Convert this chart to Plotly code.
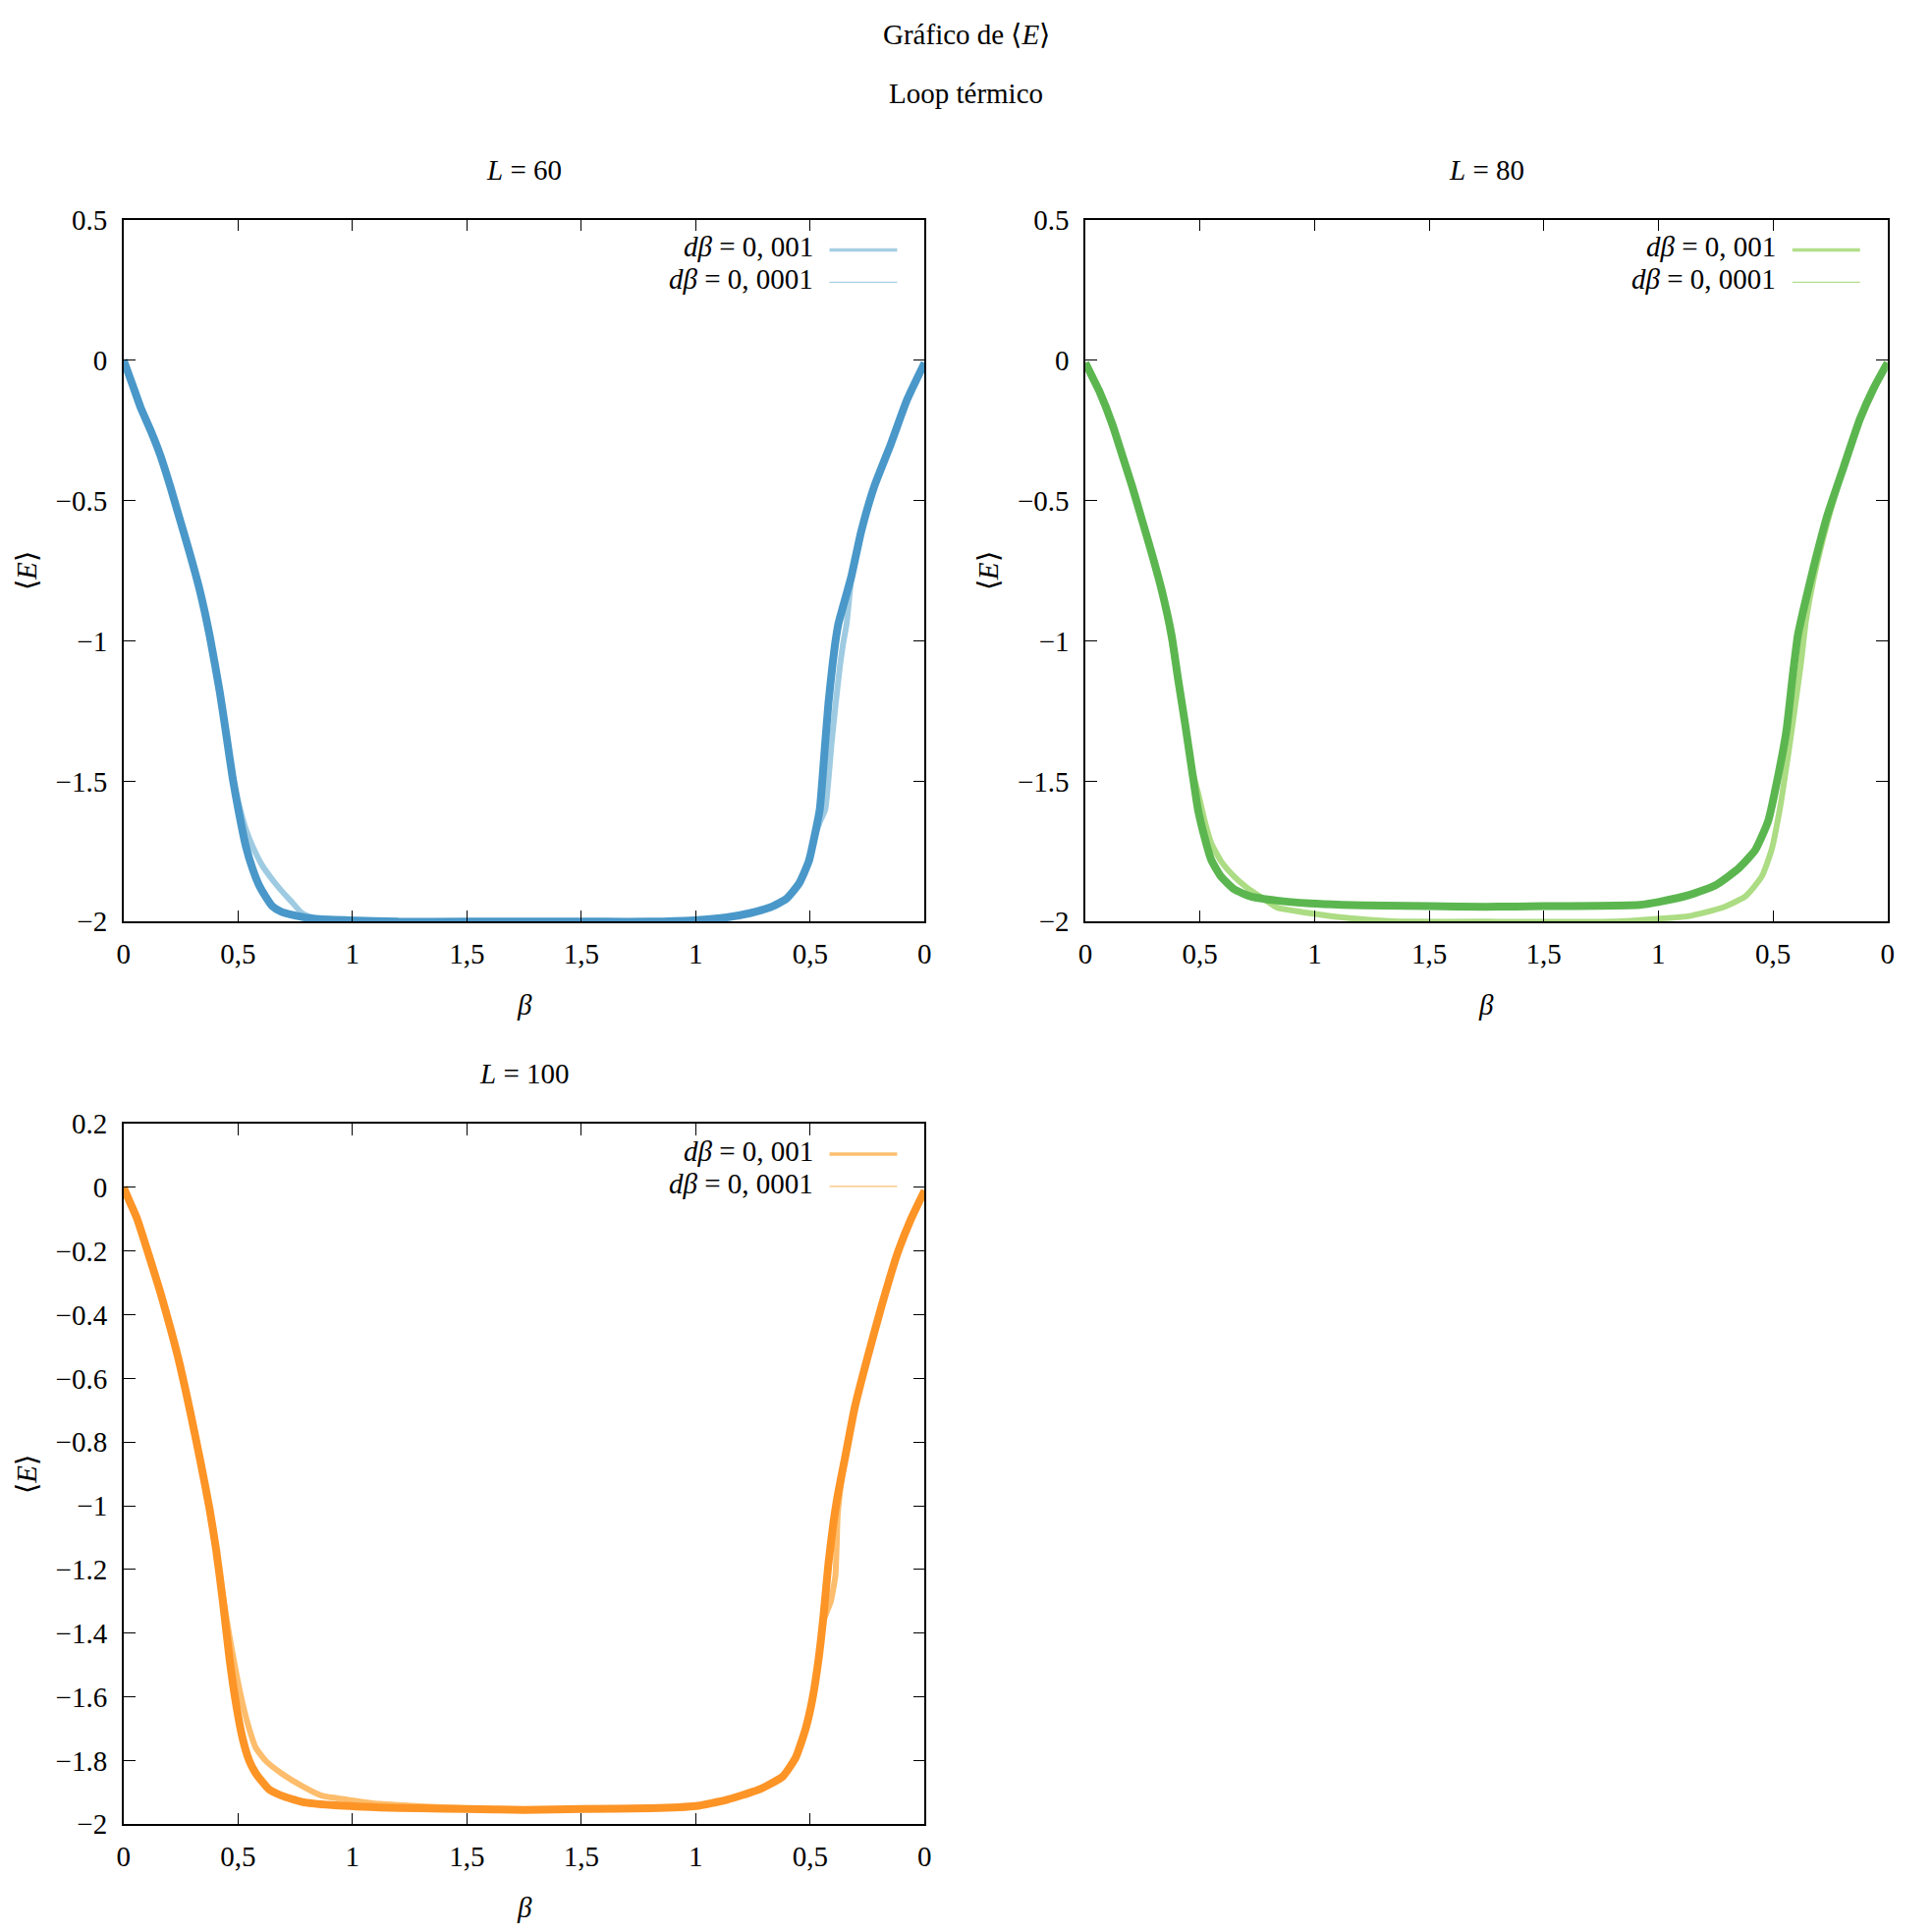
import plotly.graph_objects as go

W, H = 1967, 1967
FONT = "Liberation Serif"
FS = 29
BETA_MAX = 1.75   # el loop sube hasta beta = 1.75 y vuelve a 0

# ── L = 60 ─────────────────────────────────────────────
L60_SUBE_B_1E4 = [0, 0.04, 0.075, 0.118, 0.161, 0.204, 0.247, 0.29, 0.333, 0.376, 0.42, 0.448,
                  0.477, 0.506, 0.534, 0.563, 0.592, 0.62, 0.65, 0.69, 0.76, 0.84, 0.98, 1.2, 1.5, 1.75]
L60_SUBE_E_1E4 = [0.0, -0.09, -0.17, -0.25, -0.34, -0.45, -0.57, -0.69, -0.82, -0.98, -1.18, -1.33,
                  -1.49, -1.62, -1.73, -1.81, -1.87, -1.91, -1.945, -1.965, -1.98, -1.99, -1.995, -2.0, -2.0, -2.0]
L60_BAJA_B_1E4 = [1.75, 1.4, 1.2, 1.007, 0.864, 0.764, 0.678, 0.606, 0.549, 0.506, 0.477, 0.458,
                  0.434, 0.42, 0.403, 0.391, 0.377, 0.32, 0.277, 0.22, 0.148, 0.076, 0]
L60_BAJA_E_1E4 = [-2.0, -2.0, -2.0, -1.995, -1.985, -1.97, -1.95, -1.92, -1.865, -1.785, -1.68, -1.60,
                  -1.36, -1.22, -1.09, -1.01, -0.94, -0.77, -0.61, -0.45, -0.30, -0.14, -0.01]

L60_SUBE_B_1E3 = [0, 0.075, 0.161, 0.247, 0.333, 0.42, 0.477, 0.5, 0.534, 0.563, 0.606, 0.65,
                  0.69, 0.735, 0.78, 0.84, 0.9, 1.2, 1.5, 1.75]
L60_SUBE_E_1E3 = [0.0, -0.17, -0.34, -0.57, -0.82, -1.18, -1.49, -1.57, -1.67, -1.73, -1.80, -1.85,
                  -1.89, -1.93, -1.97, -1.99, -2.0, -2.0, -2.0, -2.0]
L60_BAJA_B_1E3 = [1.75, 1.4, 1.2, 1.007, 0.864, 0.764, 0.678, 0.606, 0.549, 0.506, 0.477, 0.455,
                  0.434, 0.406, 0.388, 0.37, 0.356, 0.341, 0.32, 0.277, 0.22, 0.148, 0.076, 0]
L60_BAJA_E_1E3 = [-2.0, -2.0, -2.0, -1.995, -1.985, -1.97, -1.95, -1.92, -1.865, -1.785, -1.69, -1.64,
                  -1.60, -1.36, -1.22, -1.09, -1.01, -0.94, -0.78, -0.61, -0.45, -0.30, -0.14, -0.01]

# ── L = 80 ─────────────────────────────────────────────
L80_SUBE_B_1E4 = [0, 0.03, 0.06, 0.118, 0.161, 0.204, 0.247, 0.29, 0.333, 0.376, 0.405, 0.434, 0.463,
                  0.491, 0.52, 0.549, 0.592, 0.65, 0.72, 0.836, 0.98, 1.12, 1.3, 1.5, 1.75]
L80_SUBE_E_1E4 = [-0.01, -0.06, -0.11, -0.23, -0.34, -0.45, -0.57, -0.69, -0.82, -0.98, -1.14, -1.29, -1.45,
                  -1.60, -1.70, -1.78, -1.84, -1.885, -1.91, -1.925, -1.935, -1.94, -1.943, -1.945, -1.947]
L80_BAJA_B_1E4 = [1.75, 1.5, 1.08, 1.0, 0.864, 0.75, 0.649, 0.577, 0.52, 0.477, 0.441, 0.413, 0.391,
                  0.363, 0.32, 0.263, 0.191, 0.12, 0.06, 0]
L80_BAJA_E_1E4 = [-1.947, -1.945, -1.94, -1.93, -1.905, -1.87, -1.81, -1.745, -1.64, -1.48, -1.32, -1.12, -0.98,
                  -0.876, -0.73, -0.555, -0.38, -0.21, -0.10, -0.01]

L80_SUBE_B_1E3 = [0, 0.06, 0.161, 0.247, 0.333, 0.405, 0.463, 0.491, 0.52, 0.549, 0.592, 0.65, 0.707,
                  0.78, 0.836, 0.98, 1.12, 1.27, 1.4, 1.75]
L80_SUBE_E_1E3 = [-0.01, -0.11, -0.34, -0.57, -0.82, -1.14, -1.45, -1.54, -1.64, -1.72, -1.785, -1.84, -1.88,
                  -1.92, -1.95, -1.97, -1.985, -1.995, -2.0, -2.0]
L80_BAJA_B_1E3 = [1.75, 1.2, 1.0, 0.864, 0.72, 0.62, 0.549, 0.506, 0.47, 0.434, 0.406, 0.377, 0.356,
                  0.32, 0.263, 0.191, 0.12, 0.06, 0]
L80_BAJA_E_1E3 = [-2.0, -2.0, -1.99, -1.98, -1.95, -1.91, -1.84, -1.745, -1.60, -1.41, -1.25, -1.076, -0.93,
                  -0.77, -0.58, -0.38, -0.21, -0.10, -0.01]

# ── L = 100 ────────────────────────────────────────────
L100_SUBE_B_1E4 = [0, 0.03, 0.06, 0.118, 0.161, 0.204, 0.247, 0.29, 0.333, 0.376, 0.405, 0.434, 0.463,
                   0.491, 0.52, 0.549, 0.578, 0.635, 0.69, 0.78, 0.91, 1.12, 1.3, 1.5, 1.75]
L100_SUBE_E_1E4 = [0.0, -0.05, -0.10, -0.23, -0.33, -0.44, -0.56, -0.70, -0.85, -1.01, -1.14, -1.30, -1.48,
                   -1.62, -1.73, -1.80, -1.84, -1.89, -1.91, -1.93, -1.94, -1.947, -1.95, -1.952, -1.955]
L100_BAJA_B_1E4 = [1.75, 1.5, 1.2, 1.0, 0.864, 0.72, 0.62, 0.563, 0.52, 0.491, 0.463, 0.441, 0.42,
                   0.398, 0.377, 0.348, 0.305, 0.248, 0.191, 0.12, 0.06, 0]
L100_BAJA_E_1E4 = [-1.955, -1.952, -1.95, -1.943, -1.923, -1.89, -1.85, -1.79, -1.70, -1.61, -1.48, -1.34, -1.18,
                   -1.05, -0.956, -0.85, -0.69, -0.53, -0.38, -0.21, -0.10, -0.01]

L100_SUBE_B_1E3 = [0, 0.06, 0.161, 0.247, 0.333, 0.405, 0.434, 0.463, 0.491, 0.52, 0.549, 0.578, 0.62,
                   0.69, 0.78, 0.865, 0.98, 1.12, 1.34, 1.5, 1.75]
L100_SUBE_E_1E3 = [0.0, -0.10, -0.33, -0.56, -0.85, -1.14, -1.28, -1.41, -1.52, -1.62, -1.70, -1.76, -1.80,
                   -1.84, -1.88, -1.91, -1.923, -1.936, -1.945, -1.95, -1.955]
L100_BAJA_B_1E3 = [1.75, 1.5, 1.2, 1.0, 0.864, 0.72, 0.62, 0.563, 0.52, 0.491, 0.463, 0.441, 0.41,
                   0.39, 0.384, 0.38, 0.363, 0.348, 0.305, 0.248, 0.191, 0.12, 0.06, 0]
L100_BAJA_E_1E3 = [-1.955, -1.952, -1.95, -1.943, -1.923, -1.89, -1.85, -1.79, -1.70, -1.61, -1.48, -1.36, -1.30,
                   -1.22, -1.12, -1.03, -0.92, -0.85, -0.69, -0.53, -0.38, -0.21, -0.10, -0.01]

X_TICKS = [0, 0.5, 1, 1.5, 2, 2.5, 3, 3.5]
X_TICKTEXT = ['0', '0,5', '1', '1,5', '1,5', '1', '0,5', '0']
Y_TICKS_A = [0.5, 0, -0.5, -1, -1.5, -2]
Y_TICKTEXT_A = ['0.5', '0', '−0.5', '−1', '−1.5', '−2']
Y_TICKS_B = [0.2, 0, -0.2, -0.4, -0.6, -0.8, -1, -1.2, -1.4, -1.6, -1.8, -2]
Y_TICKTEXT_B = ['0.2', '0', '−0.2', '−0.4', '−0.6', '−0.8', '−1', '−1.2', '−1.4', '−1.6', '−1.8', '−2']

# colores: (muestra de leyenda, curva dβ=0,001, curva dβ=0,0001)
COLS = {
    60:  ('#a6cee3', '#9fcbe2', '#4a98c9'),
    80:  ('#b2df8a', '#acdc83', '#5cb650'),
    100: ('#fdbf6f', '#fdbd6c', '#fd9426'),
}

# la página desplaza y encoge un poco la figura al fotografiarla; se compensa aquí
SX, OX = 0.9946, 13.1
SY, OY = 0.9875, 19.4


def px(x):
    return (x / SX - OX) / W


def py(y):
    return 1 - (y / SY - OY) / H


def loop_x(b_sube, b_baja):
    # eje horizontal: beta sube hasta BETA_MAX y luego baja
    return list(b_sube) + [2 * BETA_MAX - b for b in b_baja]


# paneles, en pixeles de la imagen final
PANELS = {
    60:  dict(x0=124, x1=941, y0=219.5, y1=937, ax='', yr=[-2, 0.5], yt=(Y_TICKS_A, Y_TICKTEXT_A)),
    80:  dict(x0=1105, x1=1923, y0=219.5, y1=937, ax='2', yr=[-2, 0.5], yt=(Y_TICKS_A, Y_TICKTEXT_A)),
    100: dict(x0=124, x1=941, y0=1143.5, y1=1859.5, ax='3', yr=[-2, 0.2], yt=(Y_TICKS_B, Y_TICKTEXT_B)),
}

SERIES = {
    60:  [(L60_SUBE_B_1E3, L60_SUBE_E_1E3, L60_BAJA_B_1E3, L60_BAJA_E_1E3),
          (L60_SUBE_B_1E4, L60_SUBE_E_1E4, L60_BAJA_B_1E4, L60_BAJA_E_1E4)],
    80:  [(L80_SUBE_B_1E3, L80_SUBE_E_1E3, L80_BAJA_B_1E3, L80_BAJA_E_1E3),
          (L80_SUBE_B_1E4, L80_SUBE_E_1E4, L80_BAJA_B_1E4, L80_BAJA_E_1E4)],
    100: [(L100_SUBE_B_1E3, L100_SUBE_E_1E3, L100_BAJA_B_1E3, L100_BAJA_E_1E3),
          (L100_SUBE_B_1E4, L100_SUBE_E_1E4, L100_BAJA_B_1E4, L100_BAJA_E_1E4)],
}

fig = go.Figure()
layout = {}
annotations = []
shapes = []

tick_font = dict(family=FONT, size=FS, color='black')
txt = dict(xref='paper', yref='paper', showarrow=False, font=tick_font,
           xanchor='center', yanchor='middle')

for L, p in PANELS.items():
    ax = p['ax']
    leg_col, col_1e3, col_1e4 = COLS[L]
    (sb3, se3, bb3, be3), (sb4, se4, bb4, be4) = SERIES[L]

    fig.add_trace(go.Scatter(
        x=loop_x(sb3, bb3), y=list(se3) + list(be3), mode='lines',
        line=dict(color=col_1e3, width=6, shape='spline', smoothing=0.5),
        name='dβ = 0,001', showlegend=False, xaxis='x' + ax, yaxis='y' + ax,
    ))
    fig.add_trace(go.Scatter(
        x=loop_x(sb4, bb4), y=list(se4) + list(be4), mode='lines',
        line=dict(color=col_1e4, width=8, shape='spline', smoothing=0.5),
        name='dβ = 0,0001', showlegend=False, xaxis='x' + ax, yaxis='y' + ax,
    ))

    common = dict(showline=True, linecolor='black', linewidth=1.5, mirror='ticks',
                  ticks='inside', ticklen=12, tickwidth=1.2, tickcolor='black',
                  showgrid=False, zeroline=False, tickfont=tick_font)
    layout['xaxis' + ax] = dict(
        domain=[px(p['x0']), px(p['x1'])], anchor='y' + ax, range=[0, 2 * BETA_MAX],
        tickmode='array', tickvals=X_TICKS, ticktext=X_TICKTEXT, ticklabelstandoff=6, **common)
    layout['yaxis' + ax] = dict(
        domain=[py(p['y1']), py(p['y0'])], anchor='x' + ax, range=p['yr'],
        tickmode='array', tickvals=p['yt'][0], ticktext=p['yt'][1], ticklabelstandoff=9, **common)

    xc = (p['x0'] + p['x1']) / 2
    yc = (p['y0'] + p['y1']) / 2
    annotations.append(dict(text=f'<i>L</i> = {L}', x=px(xc), y=py(p['y0'] - 51), **txt))
    annotations.append(dict(text='<i>β</i>', x=px(xc), y=py(p['y1'] + 85), **txt))
    annotations.append(dict(text='⟨<i>E</i>⟩', x=px(p['x0'] - 99), y=py(yc), textangle=-90, **txt))

    # leyenda estilo gnuplot: texto a la izquierda, muestra de línea a la derecha
    for i, (lab, w) in enumerate([('<i>dβ</i> = 0, 001', 3.5), ('<i>dβ</i> = 0, 0001', 1.2)]):
        yrow = p['y0'] + 31 + 33 * i
        annotations.append(dict(text=lab, xref='paper', yref='paper', showarrow=False, font=tick_font,
                                x=px(p['x1'] - 112), y=py(yrow - 3), xanchor='right', yanchor='middle'))
        shapes.append(dict(type='line', xref='paper', yref='paper',
                           x0=px(p['x1'] - 97), x1=px(p['x1'] - 28), y0=py(yrow), y1=py(yrow),
                           line=dict(color=leg_col, width=w)))

annotations.append(dict(text='Gráfico de ⟨<i>E</i>⟩', x=px(983.5), y=py(30), **txt))
annotations.append(dict(text='Loop térmico', x=px(983.5), y=py(90), **txt))

fig.update_layout(
    width=W, height=H,
    margin=dict(l=0, r=0, t=0, b=0),
    paper_bgcolor='white', plot_bgcolor='white',
    font=dict(family=FONT, size=FS, color='black'),
    showlegend=False,
    annotations=annotations, shapes=shapes,
    **layout,
)

fig.write_html("out.html")
